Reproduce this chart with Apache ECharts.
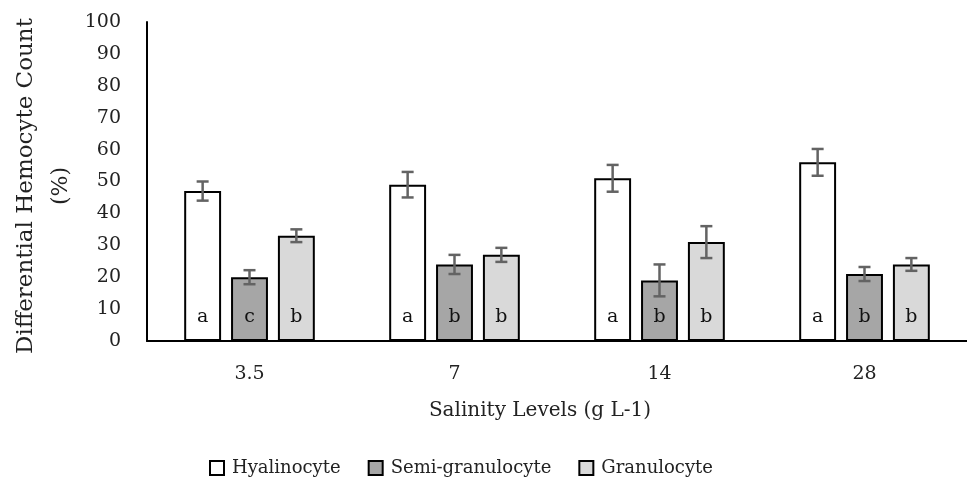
<!DOCTYPE html>
<html><head><meta charset="utf-8">
<script src="https://cdn.jsdelivr.net/npm/echarts@6/dist/echarts.min.js"></script>
<style>html,body{margin:0;padding:0;background:#fff}#c{width:967px;height:485px}</style>
</head><body><div id="c"></div>
<script>
const categories = ['3.5', '7', '14', '28'];
const seriesNames = ['Hyalinocyte', 'Semi-granulocyte', 'Granulocyte'];
const hyalinocyte = [47, 49, 51, 56];
const semiGranulocyte = [20, 24, 19, 21];
const granulocyte = [33, 27, 31, 24];
const hyalinocyteErr = [3, 4, 4.2, 4.2];
const semiGranulocyteErr = [2.2, 3, 5, 2.2];
const granulocyteErr = [2, 2.2, 5, 2];
const hyalinocyteLetters = ['a', 'a', 'a', 'a'];
const semiGranulocyteLetters = ['c', 'b', 'b', 'b'];
const granulocyteLetters = ['b', 'b', 'b', 'b'];
const yTicks = [0, 10, 20, 30, 40, 50, 60, 70, 80, 90, 100];

const FONT = 'DejaVu Serif';
const colors = ['#ffffff', '#a6a6a6', '#d9d9d9'];
const values = [hyalinocyte, semiGranulocyte, granulocyte];
const errs = [hyalinocyteErr, semiGranulocyteErr, granulocyteErr];
const letters = [hyalinocyteLetters, semiGranulocyteLetters, granulocyteLetters];
const BAR_FRAC = 0.18, GAP_FRAC = 0.27;

const chart = echarts.init(document.getElementById('c'), null, {renderer: 'canvas'});
const series = [];
values.forEach((vals, i) => {
  series.push({
    name: seriesNames[i], type: 'bar', data: vals,
    barWidth: (BAR_FRAC * 100) + '%', barGap: (GAP_FRAC * 100) + '%',
    itemStyle: {color: colors[i], borderColor: '#000', borderWidth: 2},
    label: {show: true, position: 'insideBottom', distance: 14, color: '#111', fontFamily: FONT, fontSize: 19,
      formatter: p => letters[i][p.dataIndex]},
    emphasis: {disabled: true}
  });
});
values.forEach((vals, i) => {
  series.push({
    type: 'custom', silent: true, z: 10,
    data: vals.map((v, j) => [j, v, errs[i][j]]),
    renderItem: (params, api) => {
      const x = api.value(0), v = api.value(1), e = api.value(2);
      const band = api.size([1, 0])[0];
      const bw = band * BAR_FRAC, gap = bw * GAP_FRAC;
      const off = (i - 1) * (bw + gap);
      const top = api.coord([x, v + e]), bot = api.coord([x, v - e]);
      const cx = top[0] + off, hw = 6;
      const st = {stroke: '#636363', lineWidth: 2.5};
      return {type: 'group', children: [
        {type: 'line', shape: {x1: cx, y1: top[1], x2: cx, y2: bot[1]}, style: st},
        {type: 'line', shape: {x1: cx - hw, y1: top[1], x2: cx + hw, y2: top[1]}, style: st},
        {type: 'line', shape: {x1: cx - hw, y1: bot[1], x2: cx + hw, y2: bot[1]}, style: st}
      ]};
    }
  });
});

chart.setOption({
  animation: false,
  grid: {left: 147, right: 0, top: 22, bottom: 144, containLabel: false},
  legend: {
    data: seriesNames, left: 209, top: 459, padding: 0, itemWidth: 14, itemHeight: 14, itemGap: 27,
    icon: 'rect', selectedMode: false,
    itemStyle: {borderColor: '#000', borderWidth: 2},
    textStyle: {fontFamily: FONT, fontSize: 18, color: '#222', padding: [0, 0, 0, 3]}
  },
  xAxis: {
    type: 'category', data: categories,
    axisLine: {lineStyle: {color: '#000', width: 2}}, axisTick: {show: false},
    axisLabel: {fontFamily: FONT, fontSize: 19, color: '#222', margin: 24}
  },
  yAxis: {
    type: 'value', min: 0, max: 100, interval: 10,
    axisLine: {show: true, lineStyle: {color: '#000', width: 2}}, axisTick: {show: false},
    splitLine: {show: false},
    axisLabel: {fontFamily: FONT, fontSize: 19, color: '#222', margin: 26,
      formatter: v => yTicks.includes(v) ? String(v) : ''}
  },
  graphic: [
    {type: 'text', x: 540, y: 411, style: {text: 'Salinity Levels (g L-1)', fontFamily: FONT, fontSize: 20, fill: '#222', align: 'center', verticalAlign: 'middle'}},
    {type: 'text', x: 26, y: 186, rotation: Math.PI / 2, style: {text: 'Differential Hemocyte Count', fontFamily: FONT, fontSize: 23, fill: '#222', align: 'center', verticalAlign: 'middle'}},
    {type: 'text', x: 61, y: 186, rotation: Math.PI / 2, style: {text: '(%)', fontFamily: FONT, fontSize: 22, fill: '#222', align: 'center', verticalAlign: 'middle'}}
  ],
  series: series
});
</script></body></html>
